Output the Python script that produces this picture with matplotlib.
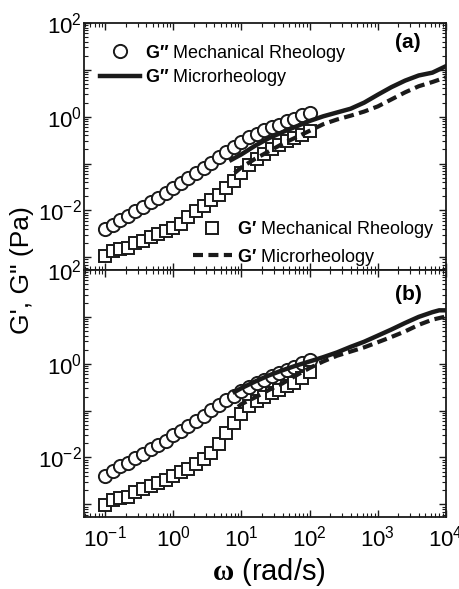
import matplotlib
matplotlib.use('Agg')
import matplotlib.pyplot as plt
import numpy as np
from matplotlib.ticker import LogLocator, FuncFormatter, NullFormatter

plt.rcParams['font.family'] = 'Liberation Sans'
plt.rcParams['mathtext.fontset'] = 'custom'
plt.rcParams['mathtext.rm'] = 'Liberation Sans'
plt.rcParams['mathtext.bf'] = 'Liberation Sans:bold'
plt.rcParams['mathtext.sf'] = 'Liberation Serif:bold'
plt.rcParams['mathtext.default'] = 'regular'

# mechanical rheology frequencies (rad/s)
omega = [0.1, 0.129, 0.167, 0.215, 0.278, 0.359, 0.464, 0.599, 0.774, 1.0,
         1.29, 1.67, 2.15, 2.78, 3.59, 4.64, 5.99, 7.74, 10.0, 12.9,
         16.7, 21.5, 27.8, 35.9, 46.4, 59.9, 77.4, 100.0]

# panel (a)
g2_mech_a = [0.00407, 0.00501, 0.00617, 0.00759, 0.00977, 0.0120, 0.0148, 0.0186, 0.0234, 0.0295,
             0.0380, 0.0490, 0.0631, 0.0813, 0.105, 0.135, 0.174, 0.224, 0.288, 0.363,
             0.437, 0.513, 0.589, 0.676, 0.794, 0.912, 1.07, 1.23]
g1_mech_a = [0.00107, 0.00138, 0.00148, 0.00158, 0.00200, 0.00224, 0.00275, 0.00309, 0.00363, 0.00427,
             0.00525, 0.00708, 0.00955, 0.0126, 0.0166, 0.0219, 0.0295, 0.0417, 0.0631, 0.0912,
             0.126, 0.162, 0.204, 0.251, 0.302, 0.355, 0.417, 0.501]
w_g2_micro_a = [7.08, 10, 15.8, 25.1, 39.8, 63.1, 100, 158, 251, 398, 631, 1000, 1580, 2510, 3980, 6310, 10000]
g2_micro_a = [0.120, 0.158, 0.240, 0.347, 0.468, 0.617, 0.813, 1.02, 1.23, 1.48, 2.00, 2.95, 4.27, 5.89, 7.59, 8.71, 12.0]
w_g1_micro_a = [7.94, 10, 15.8, 25.1, 39.8, 63.1, 100, 158, 251, 398, 631, 1000, 1580, 2510, 3980, 6310, 10000]
g1_micro_a = [0.0631, 0.0832, 0.126, 0.182, 0.263, 0.363, 0.501, 0.692, 0.871, 1.05, 1.29, 1.66, 2.34, 3.31, 4.47, 5.50, 6.92]

# panel (b)
g2_mech_b = [0.00398, 0.00513, 0.00646, 0.00776, 0.00955, 0.0117, 0.0151, 0.0186, 0.0229, 0.0295,
             0.0372, 0.0479, 0.0603, 0.0776, 0.102, 0.132, 0.166, 0.209, 0.263, 0.324,
             0.389, 0.457, 0.537, 0.631, 0.741, 0.871, 1.02, 1.20]
g1_mech_b = [0.000977, 0.00126, 0.00138, 0.00145, 0.00182, 0.00214, 0.00251, 0.00288, 0.00339, 0.00398,
             0.00479, 0.00575, 0.00724, 0.00933, 0.0126, 0.0191, 0.0331, 0.0537, 0.0832, 0.126,
             0.162, 0.200, 0.240, 0.282, 0.331, 0.398, 0.501, 0.661]
w_g2_micro_b = [7.94, 10, 15.8, 25.1, 39.8, 63.1, 100, 158, 251, 398, 631, 1000, 1580, 2510, 3980, 6310, 7940, 10000]
g2_micro_b = [0.251, 0.302, 0.417, 0.562, 0.724, 0.912, 1.12, 1.38, 1.74, 2.29, 2.95, 3.98, 5.37, 7.41, 10.0, 12.6, 13.8, 13.8]
w_g1_micro_b = [8.91, 10, 15.8, 25.1, 39.8, 63.1, 100, 158, 251, 398, 631, 1000, 1580, 2510, 3980, 6310, 10000]
g1_micro_b = [0.120, 0.138, 0.191, 0.275, 0.380, 0.562, 0.813, 1.12, 1.48, 1.82, 2.24, 2.88, 3.72, 4.90, 6.76, 8.71, 10.2]

lab_g2_mech = '$\\mathbf{G\u2033}$ Mechanical Rheology'
lab_g2_micro = '$\\mathbf{G\u2033}$ Microrheology'
lab_g1_mech = '$\\mathbf{G\u2032}$ Mechanical Rheology'
lab_g1_micro = '$\\mathbf{G\u2032}$ Microrheology'

fig = plt.figure(figsize=(4.59, 5.89), dpi=100)
ax_a = fig.add_axes([0.183, 0.5416, 0.7887, 0.4194])
ax_b = fig.add_axes([0.183, 0.1222, 0.7887, 0.4194])


def expfmt(v, pos):
    e = int(round(np.log10(v)))
    if e % 2 == 0:
        return '$10^{%d}$' % e
    return ''


def xfmt(v, pos):
    e = int(round(np.log10(v)))
    return '$10^{%d}$' % e


def draw(ax, g2m, g1m, w2, g2u, w1, g1u):
    c = ax.plot(omega, g2m, 'o', ms=9.5, mfc='white', mec='#1a1a1a', mew=1.4, ls='none')[0]
    s = ax.plot(omega, g1m, 's', ms=8.5, mfc='white', mec='#1a1a1a', mew=1.4, ls='none')[0]
    l2 = ax.plot(w2, g2u, '-', color='#1a1a1a', lw=3.2)[0]
    l1 = ax.plot(w1, g1u, '--', color='#1a1a1a', lw=3.0, dashes=(2.4, 1.3))[0]
    ax.set_xscale('log')
    ax.set_yscale('log')
    ax.set_xlim(0.049, 1e4)
    ax.set_ylim(10 ** -3.27, 1e2)
    ax.xaxis.set_major_locator(LogLocator(base=10, numticks=20))
    ax.xaxis.set_minor_locator(LogLocator(base=10, subs=np.arange(2, 10), numticks=20))
    ax.yaxis.set_major_locator(LogLocator(base=10, numticks=20))
    ax.yaxis.set_minor_locator(LogLocator(base=10, subs=np.arange(2, 10), numticks=20))
    ax.yaxis.set_major_formatter(FuncFormatter(expfmt))
    ax.xaxis.set_major_formatter(FuncFormatter(xfmt))
    ax.xaxis.set_minor_formatter(NullFormatter())
    ax.yaxis.set_minor_formatter(NullFormatter())
    ax.tick_params(which='both', direction='in', top=True, right=True, labelsize=16, color='#1a1a1a')
    ax.tick_params(which='major', length=5, width=1.0)
    ax.tick_params(which='minor', length=3, width=0.8)
    ax.tick_params(axis='y', pad=1.5)
    ax.tick_params(axis='x', pad=6)
    for sp in ax.spines.values():
        sp.set_linewidth(1.3)
        sp.set_color('#1a1a1a')
    return c, s, l2, l1


c, s, l2, l1 = draw(ax_a, g2_mech_a, g1_mech_a, w_g2_micro_a, g2_micro_a, w_g1_micro_a, g1_micro_a)
draw(ax_b, g2_mech_b, g1_mech_b, w_g2_micro_b, g2_micro_b, w_g1_micro_b, g1_micro_b)
ax_a.tick_params(axis='x', labelbottom=False)

leg1 = ax_a.legend([c, l2], [lab_g2_mech, lab_g2_micro], loc='upper left',
                   bbox_to_anchor=(0.044, 0.92), borderaxespad=0, borderpad=0,
                   frameon=False, fontsize=13, handlelength=2.2, handletextpad=0.3,
                   labelspacing=0.2, numpoints=1)
ax_a.add_artist(leg1)
ax_a.legend([s, l1], [lab_g1_mech, lab_g1_micro], loc='upper left',
            bbox_to_anchor=(0.30, 0.205), borderaxespad=0, borderpad=0,
            frameon=False, fontsize=13, handlelength=2.2, handletextpad=0.25,
            labelspacing=0.35, numpoints=1)

ax_a.text(0.895, 0.92, '(a)', transform=ax_a.transAxes, ha='center', va='center',
          fontsize=15, fontweight='bold')
ax_b.text(0.895, 0.90, '(b)', transform=ax_b.transAxes, ha='center', va='center',
          fontsize=15, fontweight='bold')

fig.text(0.047, 0.541, 'G\', G" (Pa)', rotation=90, ha='center', va='center', fontsize=19)
fig.text(0.586, 0.002, '$\\mathsf{\\omega}$ (rad/s)', ha='center', va='bottom', fontsize=21)

fig.savefig('out.png', dpi=100)
